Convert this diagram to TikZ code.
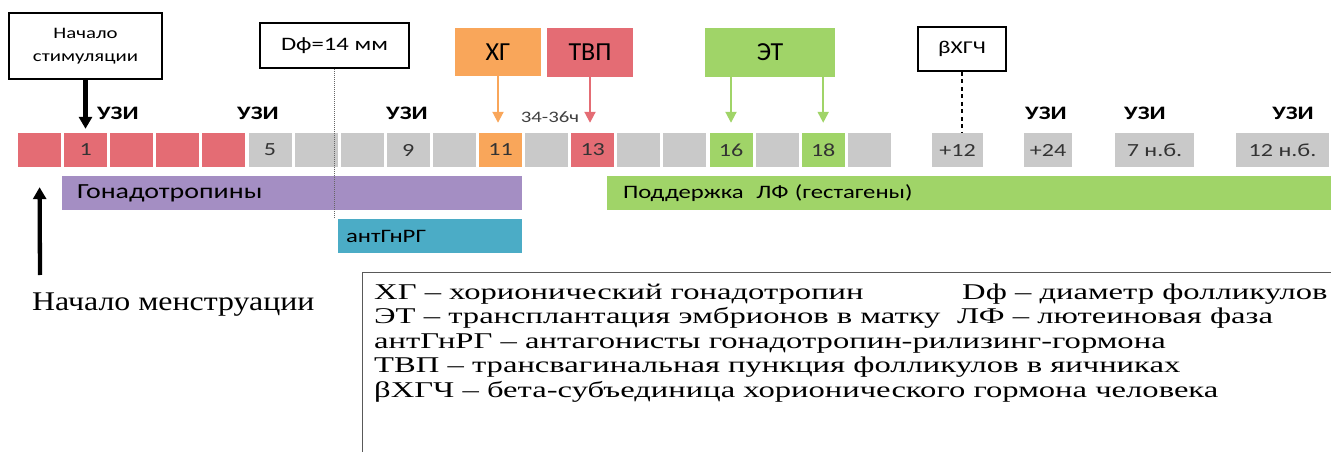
\documentclass[tikz,border=0pt]{standalone}
\usepackage{fontspec}
\setmainfont[FakeStretch=1.45]{Liberation Serif}
\newfontfamily\menstfont[FakeStretch=1.18]{Liberation Serif}
\newfontfamily\calib[FakeStretch=1.3]{Carlito}
\newfontfamily\calibn{Carlito}
\usetikzlibrary{positioning,arrows.meta}
\definecolor{cellred}{HTML}{E46C74}
\definecolor{cellgray}{HTML}{C9C9C9}
\definecolor{cellorange}{HTML}{F9A65A}
\definecolor{cellgreen}{HTML}{A0D468}
\definecolor{barpurple}{HTML}{A48EC3}
\definecolor{barblue}{HTML}{4BACC6}

\begin{document}
\begin{tikzpicture}[x=1pt,y=-1pt,node distance=2.7pt,
  cell/.style={minimum width=43pt,minimum height=34pt,inner sep=0pt,text=black!80,font=\calib\fontsize{18.5}{18.5}\selectfont},
  redcell/.style={cell,fill=cellred},graycell/.style={cell,fill=cellgray},
  orangecell/.style={cell,fill=cellorange},greencell/.style={cell,fill=cellgreen},
  usi/.style={font=\calib\bfseries\fontsize{19}{19}\selectfont},
  markbox/.style={draw,line width=1.6pt,inner sep=0pt,align=center,font=\calib\fontsize{16}{23}\selectfont},
  tagbox/.style={inner sep=0pt,font=\calibn\fontsize{26}{26}\selectfont},
  bar/.style={minimum height=34pt,inner ysep=0pt,align=left,font=\calib\fontsize{19}{19}\selectfont},
  bigarrow/.style={line width=4.3pt,-{Triangle[width=13pt,length=12pt]}},
  thinarrow/.style={line width=2pt,-{Triangle[width=11pt,length=11pt]}}]
\useasboundingbox (0,0) rectangle (1331,452);
% days of the cycle
\node[redcell] (c0) at (39.5,150) {};
\node[redcell,right=of c0] (c1) {1};
\node[redcell,right=of c1] (c2) {};
\node[redcell,right=of c2] (c3) {};
\node[redcell,right=of c3] (c4) {};
\node[graycell,right=of c4] (c5) {5};
\node[graycell,right=of c5] (c6) {};
\node[graycell,right=of c6] (c7) {};
\node[graycell,right=of c7] (c8) {9};
\node[graycell,right=of c8] (c9) {};
\node[orangecell,right=of c9] (c10) {11};
\node[graycell,right=of c10] (c11) {};
\node[redcell,right=of c11] (c12) {13};
\node[graycell,right=of c12] (c13) {};
\node[graycell,right=of c13] (c14) {};
\node[greencell,right=of c14] (c15) {16};
\node[graycell,right=of c15] (c16) {};
\node[greencell,right=of c16] (c17) {18};
\node[graycell,right=of c17] (c18) {};
\node[graycell,minimum width=51pt] (p12) at (957.5,150) {+12};
\node[graycell,minimum width=48pt] (p24) at (1048,150) {+24};
\node[graycell,minimum width=79pt] (w7) at (1154.5,150) {7 н.б.};
\node[graycell,minimum width=93pt] (w12) at (1282.5,150) {12 н.б.};
% ultrasound
\node[usi] (u1) at (118,113) {УЗИ};
\node[usi] (u2) at (258,113) {УЗИ};
\node[usi] (u3) at (407,113) {УЗИ};
\node[usi] (u4) at (1046,113) {УЗИ};
\node[usi] (u5) at (1145,113) {УЗИ};
\node[usi] (u6) at (1293,113) {УЗИ};
% events
\node[markbox,minimum width=153pt,minimum height=66pt] (stim) at (85.5,46) {Начало\\стимуляции};
\node[markbox,minimum width=149pt,minimum height=45pt,font=\calib\fontsize{19}{19}\selectfont] (df) at (334.5,45.5) {Dф=14 мм};
\node[markbox,minimum width=88pt,minimum height=44pt,font=\calib\fontsize{18}{18}\selectfont] (bhcg) at (962,49) {βХГЧ};
\node[tagbox,fill=cellorange,minimum width=86pt,minimum height=48pt] (hg) at (498,52) {ХГ};
\node[tagbox,fill=cellred,minimum width=86pt,minimum height=49pt] (tvp) at (590,52.5) {ТВП};
\node[tagbox,fill=cellgreen,minimum width=130pt,minimum height=49pt] (et) at (770,52.5) {ЭТ};
\node[font=\calib\fontsize{16}{16}\selectfont,text=black!75] (hours) at (550,117) {34-36ч};
% drugs
\node[bar,fill=barpurple,inner xsep=15pt,text width=430pt,font=\calib\fontsize{21.5}{21.5}\selectfont] (gona) at (292,193) {Гонадотропины};
\node[bar,fill=barblue,inner xsep=8pt,text width=168pt] (gnrh) at (430,236) {антГнРГ};
\node[bar,fill=cellgreen,inner xsep=16pt,text width=692pt] (lf) at (969,193) {Поддержка\ \ ЛФ (гестагены)};
\draw[bigarrow,shorten >=4pt] (stim.south) -- (stim.south |- c1.north);
\draw[thinarrow,cellorange] (hg.south) -- ([yshift=10pt]hg.south |- c10.north);
\draw[thinarrow,cellred] (tvp.south) -- ([yshift=10pt]tvp.south |- c12.north);
\draw[thinarrow,cellgreen] (et.south -| c15) -- ([yshift=10pt]c15.north);
\draw[thinarrow,cellgreen] (et.south -| c17) -- ([yshift=10pt]c17.north);
\draw[densely dotted,black!60,line width=1pt] (df.south) -- (df.south |- gnrh.north);
\draw[dash pattern=on 4pt off 3.5pt,line width=2pt] (bhcg.south) -- (bhcg.south |- p12.north);
% legend
\coordinate (mstart) at (40,275);
\draw[bigarrow,shorten >=20pt] (mstart) -- (c0.south);
\node[anchor=base west,inner sep=0pt,font=\menstfont\fontsize{27}{27}\selectfont] (menst) at (32,310) {Начало менструации};
\node[draw=black!65,line width=1.2pt,minimum width=1000pt,minimum height=200pt,anchor=north west] (legbox) at (362,272) {};
\node[anchor=base west,align=left,inner sep=0pt,font=\fontsize{22.5}{24.5}\selectfont] (legtext) at (374,397) {%
\makebox[588pt][l]{ХГ – хорионический гонадотропин}Dф – диаметр фолликулов\\
\makebox[583pt][l]{ЭТ – трансплантация эмбрионов в матку}ЛФ – лютеиновая фаза\\
антГнРГ – антагонисты гонадотропин-рилизинг-гормона\\
ТВП – трансвагинальная пункция фолликулов в яичниках\\
βХГЧ – бета-субъединица хорионического гормона человека};
\end{tikzpicture}
\end{document}
